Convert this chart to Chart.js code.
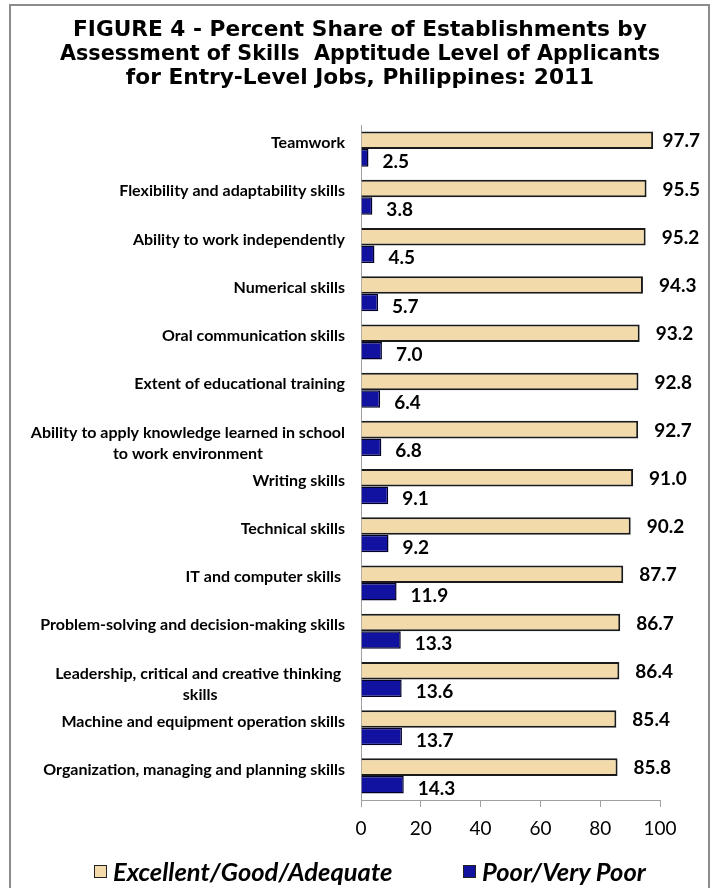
<!DOCTYPE html>
<html>
<head>
<meta charset="utf-8">
<script src="https://cdn.jsdelivr.net/npm/chart.js@4.4.1/dist/chart.umd.min.js"></script>
<style>
    body { margin: 0; background: #fff; }
    #wrap { position: relative; width: 716px; height: 888px; overflow: hidden; }
    #chart { position: absolute; left: 0; top: 0; }
    #frame { position: absolute; left: 9px; top: 4px; width: 697px; height: 900px; border: 2px solid #8c8c8c; pointer-events: none; }
    .legend-item { position: absolute; top: 858px; height: 26px; display: flex; align-items: center; font: italic bold 25.5px Lato, sans-serif; color: #000; }
    .legend-item span.box { width: 11px; height: 11px; border: 1px solid #222; margin-right: 6px; }
</style>
</head>
<body>
<div id="wrap">
    <canvas id="chart" width="716" height="888"></canvas>
    <div id="frame"></div>
    <div class="legend-item" style="left:94px"><span class="box" style="background:#F2DAAB"></span><span>Excellent/Good/Adequate</span></div>
    <div class="legend-item" style="left:463px"><span class="box" style="background:#1212A0"></span><span>Poor/Very Poor</span></div>
</div>
<script>
const TITLE_LINES = [
    'FIGURE 4 - Percent Share of Establishments by',
    'Assessment of Skills  Apptitude Level of Applicants',
    'for Entry-Level Jobs, Philippines: 2011'
];

const SKILLS = [
    'Teamwork',
    'Flexibility and adaptability skills',
    'Ability to work independently',
    'Numerical skills',
    'Oral communication skills',
    'Extent of educational training',
    ['Ability to apply knowledge learned in school', 'to work environment'],
    'Writing skills',
    'Technical skills',
    'IT and computer skills ',
    'Problem-solving and decision-making skills',
    ['Leadership, critical and creative thinking ', 'skills'],
    'Machine and equipment operation skills',
    'Organization, managing and planning skills'
];

const GOOD = [97.7, 95.5, 95.2, 94.3, 93.2, 92.8, 92.7, 91.0, 90.2, 87.7, 86.7, 86.4, 85.4, 85.8];
const POOR = [2.5, 3.8, 4.5, 5.7, 7.0, 6.4, 6.8, 9.1, 9.2, 11.9, 13.3, 13.6, 13.7, 14.3];

const SERIES_NAMES = ['Excellent/Good/Adequate', 'Poor/Very Poor'];
const X_TICKS = [0, 20, 40, 60, 80, 100];

const AXIS_GRAY = '#a0a0a0';

// category names on the left + value labels beside the bars
const labelPlugin = {
    id: 'skillLabels',
    afterDatasetsDraw(chart) {
        const ctx = chart.ctx;
        const yScale = chart.scales.y;
        const xScale = chart.scales.x;
        ctx.save();
        ctx.fillStyle = '#000';
        ctx.textBaseline = 'middle';
        ctx.textAlign = 'center';
        ctx.font = 'bold 16px Lato, sans-serif';
        SKILLS.forEach((lab, i) => {
            const lines = Array.isArray(lab) ? lab : [lab];
            const w = Math.max(...lines.map(l => ctx.measureText(l).width));
            const cx = yScale.right - 16 - w / 2;
            const yc = yScale.getPixelForValue(i) - 6;
            lines.forEach((l, j) => ctx.fillText(l, cx, yc + j * 21));
        });

        ctx.textAlign = 'left';
        ctx.font = 'bold 19px Lato, sans-serif';
        const goodBars = chart.getDatasetMeta(0).data;
        const poorBars = chart.getDatasetMeta(1).data;
        GOOD.forEach((v, i) => {
            const txt = v.toFixed(1);
            const tw = ctx.measureText(txt).width;
            const x = Math.min(xScale.getPixelForValue(v) + 16, 700 - tw);
            ctx.fillText(txt, x, goodBars[i].y + 1);
        });
        POOR.forEach((v, i) => {
            ctx.fillText(v.toFixed(1), xScale.getPixelForValue(v) + 14, poorBars[i].y + 4);
        });
        ctx.restore();
    }
};

const chart = new Chart(document.getElementById('chart'), {
    type: 'bar',
    data: {
        labels: SKILLS,
        datasets: [
            { label: SERIES_NAMES[0], data: GOOD, backgroundColor: '#F2DAAB', borderColor: '#1a1a1a', borderWidth: 2 },
            { label: SERIES_NAMES[1], data: POOR, backgroundColor: '#1212A0', borderColor: '#000028', borderWidth: 1.5 }
        ]
    },
    options: {
        indexAxis: 'y',
        responsive: false,
        animation: false,
        barPercentage: 1,
        categoryPercentage: 0.727,
        layout: { padding: { left: 60, right: 56, top: 0, bottom: 50 } },
        plugins: {
            legend: { display: false },
            tooltip: { enabled: false },
            title: {
                display: true,
                text: TITLE_LINES,
                color: '#000',
                font: { family: 'DejaVu Sans', size: 21.7, weight: 'bold', lineHeight: 1.106 },
                padding: { top: 18, bottom: 35 }
            }
        },
        scales: {
            x: {
                min: 0, max: 100,
                afterBuildTicks: (scale) => { scale.ticks = X_TICKS.map(v => ({ value: v })); },
                afterFit: (scale) => { scale.height = 38; },
                grid: { display: true, drawOnChartArea: false, tickLength: 7, color: AXIS_GRAY },
                border: { display: true, color: AXIS_GRAY },
                ticks: { color: '#000', padding: 10, font: { family: 'Lato', size: 19 } }
            },
            y: {
                afterFit: (scale) => { scale.width = 301; },
                grid: { display: false },
                border: { display: true, color: AXIS_GRAY },
                ticks: { display: false }
            }
        }
    },
    plugins: [labelPlugin]
});
</script>
</body>
</html>
